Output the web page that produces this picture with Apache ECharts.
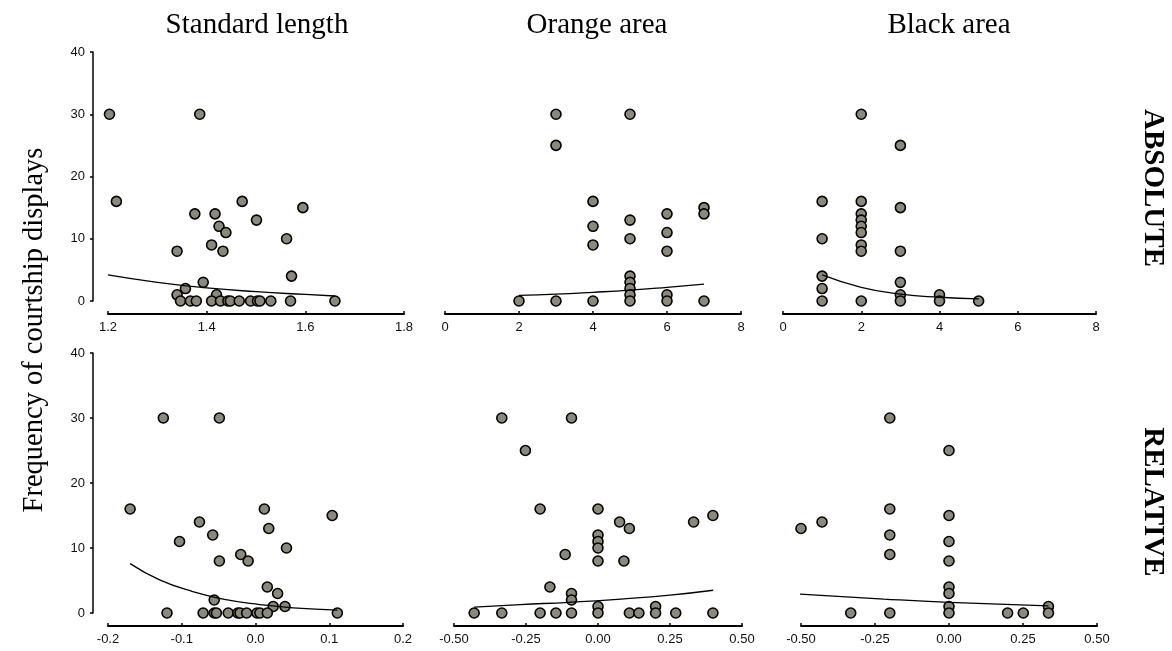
<!DOCTYPE html>
<html>
<head>
<meta charset="utf-8">
<script src="https://cdn.jsdelivr.net/npm/echarts@6/dist/echarts.min.js"></script>
<style>html,body{margin:0;padding:0;background:#fff}#c{width:1172px;height:651px}</style>
</head>
<body>
<div id="c"></div>
<script>
// ---- data ----
const panelTitles = ['Standard length', 'Orange area', 'Black area'];
const rowLabels = ['ABSOLUTE', 'RELATIVE'];
const yAxisTitle = 'Frequency of courtship displays';

const slAbsX = [1.203,1.386,1.217,1.376,1.417,1.472,1.501,1.595,1.425,1.439,1.410,1.433,1.340,1.562,1.572,1.393,1.357,1.340,1.420,1.347,1.367,1.379,1.410,1.428,1.443,1.448,1.466,1.489,1.503,1.508,1.530,1.570,1.660];
const slAbsY = [30,30,16,14,14,16,13,15,12,11,9,8,8,10,4,3,2,1,1,0,0,0,0,0,0,0,0,0,0,0,0,0,0];
const slAbsFitX = [1.2,1.3,1.4,1.5,1.6,1.66];
const slAbsFitY = [4.2,3.0,2.1,1.5,1.05,0.8];

const orAbsX = [3,5,3,4,4,4,5,5,5,5,5,5,5,6,6,6,6,6,7,7,7,2,3,4];
const orAbsY = [30,30,25,16,12,9,13,10,4,3,2,1,0,14,11,8,1,0,15,14,0,0,0,0];
const orAbsFitX = [2,3,4,5,6,7];
const orAbsFitY = [0.9,1.1,1.4,1.75,2.2,2.7];

const blAbsX = [2,3,1,1,1,1,1,2,2,2,2,2,2,2,2,3,3,3,3,3,4,4,5];
const blAbsY = [30,25,16,10,4,2,0,16,14,13,12,11,9,8,0,15,8,3,1,0,1,0,0];
const blAbsFitX = [1,2,3,4,5];
const blAbsFitY = [4.2,2.2,1.1,0.6,0.35];

const slRelX = [-0.125,-0.049,-0.170,-0.076,-0.058,-0.103,-0.049,-0.020,-0.010,0.012,0.018,0.042,0.016,0.030,-0.056,0.024,0.040,0.104,-0.120,-0.071,-0.056,-0.053,-0.037,-0.024,-0.021,-0.012,0.002,0.006,0.016,0.111];
const slRelY = [30,30,16,14,12,11,8,9,8,16,13,10,4,3,2,1,1,15,0,0,0,0,0,0,0,0,0,0,0,0];
const slRelFitX = [-0.17,-0.13,-0.085,-0.04,0.006,0.051,0.111];
const slRelFitY = [7.6,5.1,3.3,2.05,1.3,0.8,0.45];

const orRelX = [-0.334,-0.092,-0.252,-0.201,0,0.075,0.109,0.332,0.399,0,0,0,0,-0.114,0.090,-0.167,-0.092,-0.092,0,0.200,-0.430,-0.334,-0.201,-0.146,-0.092,0,0.109,0.142,0.200,0.270,0.399];
const orRelY = [30,30,25,16,16,14,13,14,15,12,11,10,8,9,8,4,3,2,1,1,0,0,0,0,0,0,0,0,0,0,0];
const orRelFitX = [-0.43,-0.27,-0.1,0.08,0.25,0.4];
const orRelFitY = [0.9,1.3,1.65,2.15,2.75,3.5];

const blRelX = [-0.2,0,-0.2,-0.2,-0.2,-0.5,-0.429,0,0,0,0,0,0,0,-0.332,-0.2,0.198,0.251,0.336,0.336];
const blRelY = [30,25,16,12,9,13,14,15,11,8,4,3,1,0,0,0,0,0,1,0];
const blRelFitX = [-0.54,-0.22,0,0.336];
const blRelFitY = [3.0,2.15,1.65,1.1];

const yTicks = [0, 10, 20, 30, 40];

// ---- layout ----
const zip = (a, b) => a.map((v, i) => [v, b[i]]);
const panels = [
  {pts: zip(slAbsX, slAbsY), fit: zip(slAbsFitX, slAbsFitY), min: 1.2, max: 1.8, iv: 0.2, dec: 1, grid: {left: 108, top: 52, width: 296, height: 249}, yShow: true},
  {pts: zip(orAbsX, orAbsY), fit: zip(orAbsFitX, orAbsFitY), min: 0, max: 8, iv: 2, dec: 0, grid: {left: 445, top: 52, width: 296, height: 249}, yShow: false},
  {pts: zip(blAbsX, blAbsY), fit: zip(blAbsFitX, blAbsFitY), min: 0, max: 8, iv: 2, dec: 0, grid: {left: 783, top: 52, width: 313, height: 249}, yShow: false},
  {pts: zip(slRelX, slRelY), fit: zip(slRelFitX, slRelFitY), min: -0.2, max: 0.2, iv: 0.1, dec: 1, grid: {left: 108, top: 353, width: 295, height: 260}, yShow: true},
  {pts: zip(orRelX, orRelY), fit: zip(orRelFitX, orRelFitY), min: -0.5, max: 0.5, iv: 0.25, dec: 2, grid: {left: 454, top: 353, width: 288, height: 260}, yShow: false},
  {pts: zip(blRelX, blRelY), fit: zip(blRelFitX, blRelFitY), min: -0.5, max: 0.5, iv: 0.25, dec: 2, grid: {left: 801, top: 353, width: 296, height: 260}, yShow: false}
];

const sans = 'Liberation Sans, Arial, sans-serif';
const serif = 'Liberation Serif, Times New Roman, serif';

const grids = [], xAxes = [], yAxes = [], series = [];
panels.forEach((p, i) => {
  grids.push(Object.assign({containLabel: false}, p.grid));
  xAxes.push({
    type: 'value', gridIndex: i, min: p.min, max: p.max, interval: p.iv, offset: 13,
    axisLine: {show: true, onZero: false, lineStyle: {color: '#000', width: 2}},
    axisTick: {show: true, inside: true, length: 3, lineStyle: {color: '#000', width: 1.5}},
    splitLine: {show: false},
    axisLabel: {color: '#111', fontFamily: sans, fontSize: 13, margin: 7,
      formatter: v => Number(v).toFixed(p.dec)}
  });
  yAxes.push({
    type: 'value', gridIndex: i, min: yTicks[0], max: yTicks[yTicks.length - 1], interval: 10, offset: 15,
    show: p.yShow,
    axisLine: {show: true, onZero: false, lineStyle: {color: '#000', width: 1.5}},
    axisTick: {show: true, inside: false, length: 3, lineStyle: {color: '#000', width: 1.5}},
    splitLine: {show: false},
    axisLabel: {color: '#111', fontFamily: sans, fontSize: 13, margin: 8}
  });
  series.push({
    type: 'scatter', xAxisIndex: i, yAxisIndex: i, data: p.pts, symbol: 'circle', symbolSize: 10,
    itemStyle: {color: '#8c897a', borderColor: '#000', borderWidth: 1.6, opacity: 1}, z: 2, silent: true
  });
  series.push({
    type: 'line', xAxisIndex: i, yAxisIndex: i, data: p.fit, smooth: true, showSymbol: false, clip: false,
    lineStyle: {color: '#000', width: 1.3}, z: 3, silent: true
  });
});

const titleXs = [257, 597, 949];
const graphics = [];
panelTitles.forEach((t, i) => graphics.push({
  type: 'text', x: titleXs[i], y: 25,
  style: {text: t, font: '29px ' + serif, fill: '#000', textAlign: 'center', textVerticalAlign: 'middle'}
}));
graphics.push({
  type: 'text', x: 35, y: 330, rotation: Math.PI / 2,
  style: {text: yAxisTitle, font: '28.5px ' + serif, fill: '#000', textAlign: 'center', textVerticalAlign: 'middle'}
});
const rowYs = [188, 502];
rowLabels.forEach((t, i) => graphics.push({
  type: 'text', x: 1152, y: rowYs[i], rotation: -Math.PI / 2,
  style: {text: t, font: 'bold 29px ' + serif, fill: '#000', textAlign: 'center', textVerticalAlign: 'middle'}
}));

const chart = echarts.init(document.getElementById('c'), null, {renderer: 'canvas'});
chart.setOption({
  backgroundColor: '#fff',
  animation: false,
  grid: grids, xAxis: xAxes, yAxis: yAxes, series: series,
  graphic: graphics
});
</script>
</body>
</html>
